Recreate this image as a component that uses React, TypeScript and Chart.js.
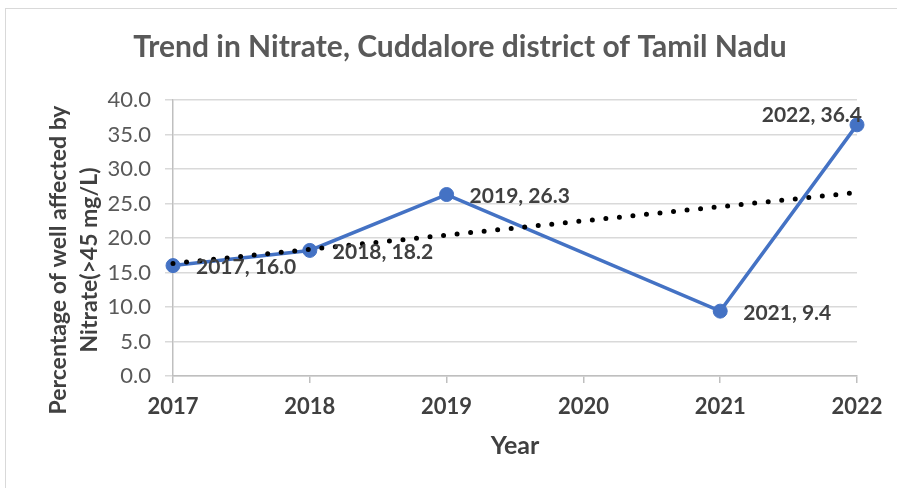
import React, { useEffect, useRef } from 'react';
import { Chart, registerables } from 'chart.js';

Chart.register(...registerables);

const chartTitle = 'Trend in Nitrate, Cuddalore district of Tamil Nadu';
const xAxisTitle = 'Year';
const yAxisTitle = ['Percentage of well affected by', 'Nitrate(>45 mg/L)'];

const years = [2017, 2018, 2019, 2021, 2022];
const nitratePct = [16.0, 18.2, 26.3, 9.4, 36.4];

// linear trendline end points
const trendYears = [2017, 2022];
const trendValues = [16.3, 26.6];

const xMin = 2017;
const xMax = 2022;
const yMin = 0;
const yMax = 40;
const yStep = 5;

const FONT = 'Lato, "Open Sans", sans-serif';

const labelsPlugin = {
  id: 'pointLabels',
  afterDatasetsDraw(chart: any) {
    const meta = chart.getDatasetMeta(1);
    const ctx = chart.ctx;
    ctx.save();
    ctx.font = `bold 21px ${FONT}`;
    ctx.fillStyle = '#404040';
    ctx.textBaseline = 'middle';
    const n = meta.data.length;
    meta.data.forEach((pt: any, i: number) => {
      const text = `${years[i]}, ${nitratePct[i].toFixed(1)}`;
      if (i === n - 1) {
        ctx.textAlign = 'right';
        ctx.fillText(text, pt.x + 5, pt.y - 10);
      } else {
        ctx.textAlign = 'left';
        ctx.fillText(text, pt.x + 23, pt.y + 2);
      }
    });
    ctx.restore();
  },
};

const yTitlePlugin = {
  id: 'yTitle',
  afterDraw(chart: any) {
    const ctx = chart.ctx;
    ctx.save();
    ctx.translate(59, 260);
    ctx.rotate(-Math.PI / 2);
    ctx.font = `bold 23px ${FONT}`;
    ctx.fillStyle = '#404040';
    ctx.textAlign = 'center';
    ctx.textBaseline = 'middle';
    yAxisTitle.forEach((line, i) => ctx.fillText(line, 0, i * 31));
    ctx.restore();
  },
};

export default function App() {
  const ref = useRef<HTMLCanvasElement>(null);

  useEffect(() => {
    if (!ref.current) return;
    Chart.defaults.font.family = FONT;
    const chart = new Chart(ref.current, {
      type: 'line',
      data: {
        datasets: [
          {
            label: 'Linear trend',
            data: trendYears.map((x, i) => ({ x, y: trendValues[i] })),
            borderColor: '#000000',
            borderWidth: 5,
            borderDash: [0, 13.6],
            borderCapStyle: 'round',
            pointRadius: 0,
            fill: false,
            clip: false,
          },
          {
            label: 'Nitrate',
            data: years.map((x, i) => ({ x, y: nitratePct[i] })),
            borderColor: '#4472C4',
            backgroundColor: '#4472C4',
            borderWidth: 3.5,
            pointRadius: 7,
            pointBackgroundColor: '#4472C4',
            pointBorderColor: '#4472C4',
            pointBorderWidth: 1,
            fill: false,
            clip: false,
          },
        ],
      },
      options: {
        animation: false,
        responsive: false,
        devicePixelRatio: 1,
        layout: { padding: { left: 63, right: 40, top: 0, bottom: 0 } },
        plugins: {
          legend: { display: false },
          tooltip: { enabled: false },
          title: {
            display: true,
            text: chartTitle,
            color: '#595959',
            font: { size: 30, weight: 'bold', family: FONT },
            padding: { top: 29, bottom: 35 },
          },
        },
        scales: {
          x: {
            type: 'linear',
            min: xMin,
            max: xMax,
            afterFit: (s: any) => { s.height = 112; },
            ticks: {
              stepSize: 1,
              callback: (v: any) => String(v),
              color: '#404040',
              font: { size: 22, weight: 'bold', family: FONT },
              padding: 11,
              maxRotation: 0,
            },
            grid: {
              drawOnChartArea: false,
              drawTicks: true,
              tickLength: 7,
              color: '#bfbfbf',
              lineWidth: 1.5,
            },
            border: { color: '#bfbfbf', width: 1.5 },
            title: {
              display: true,
              text: xAxisTitle,
              color: '#404040',
              font: { size: 25, weight: 'bold', family: FONT },
              padding: { top: 0, bottom: 27 },
            },
          },
          y: {
            type: 'linear',
            min: yMin,
            max: yMax,
            afterFit: (s: any) => { s.width = 110; },
            ticks: {
              stepSize: yStep,
              callback: (v: any) => Number(v).toFixed(1),
              color: '#595959',
              font: { size: 22, family: FONT },
              padding: 14,
            },
            grid: {
              color: '#d9d9d9',
              lineWidth: 1.5,
              tickLength: 8,
            },
            border: { color: '#bfbfbf', width: 1.5 },
          },
        },
      },
      plugins: [labelsPlugin, yTitlePlugin],
    } as any);
    return () => chart.destroy();
  }, []);

  return (
    <div style={{ position: 'fixed', left: 0, top: 0, width: 897, height: 488, background: '#fff', overflow: 'hidden' }}>
      <div
        style={{
          position: 'absolute',
          left: 5,
          top: 8,
          width: 920,
          height: 520,
          border: '1.5px solid #d9d9d9',
          boxSizing: 'border-box',
        }}
      />
      <canvas ref={ref} width={897} height={488} style={{ position: 'absolute', left: 0, top: 0, width: 897, height: 488 }} />
    </div>
  );
}
